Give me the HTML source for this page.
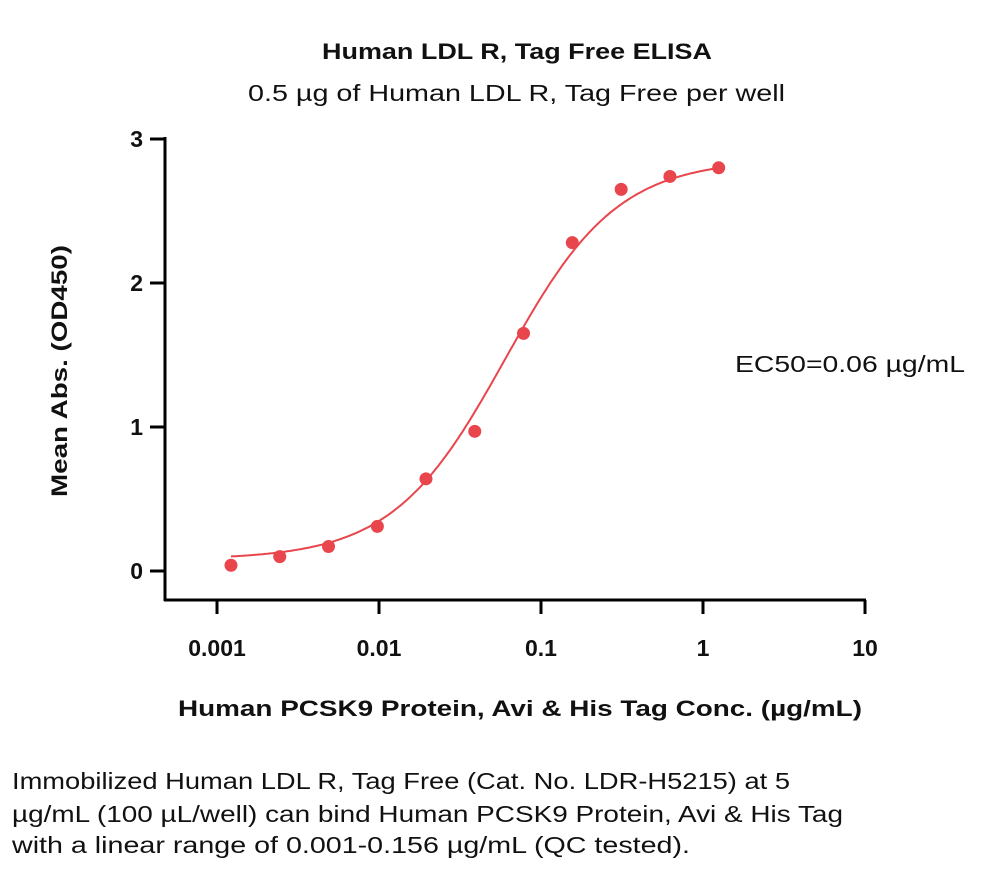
<!DOCTYPE html>
<html><head><meta charset="utf-8"><style>
body{margin:0;background:#fff;}
svg text{font-family:"Liberation Sans",Arial,sans-serif;fill:#111;}
</style></head><body>
<div style="position:relative;width:1000px;height:871px;">
<svg width="1000" height="871" id="chart">
<text x="322" y="59" textLength="390" lengthAdjust="spacingAndGlyphs" font-size="22" font-weight="bold">Human LDL R, Tag Free ELISA</text>
<text x="248" y="101" textLength="537" lengthAdjust="spacingAndGlyphs" font-size="23">0.5 µg of Human LDL R, Tag Free per well</text>
<text x="735" y="372" textLength="230" lengthAdjust="spacingAndGlyphs" font-size="23">EC50=0.06 µg/mL</text>
<text x="178" y="716" textLength="684" lengthAdjust="spacingAndGlyphs" font-size="22" font-weight="bold">Human PCSK9 Protein, Avi &amp; His Tag Conc. (µg/mL)</text>
<text transform="translate(67,497) rotate(-90)" textLength="252" lengthAdjust="spacingAndGlyphs" font-size="22" font-weight="bold">Mean Abs. (OD450)</text>
<g id="axes"></g><g id="marks"></g>
<g font-size="23">
<text x="12" y="789" textLength="778" lengthAdjust="spacingAndGlyphs">Immobilized Human LDL R, Tag Free (Cat. No. LDR-H5215) at 5</text>
<text x="12" y="822" textLength="831" lengthAdjust="spacingAndGlyphs">µg/mL (100 µL/well) can bind Human PCSK9 Protein, Avi &amp; His Tag</text>
<text x="12" y="853" textLength="678" lengthAdjust="spacingAndGlyphs">with a linear range of 0.001-0.156 µg/mL (QC tested).</text>
</g>
</svg>
</div>
<script>
const concs=[0.00122,0.00244,0.00488,0.00977,0.0195,0.039,0.078,0.156,0.3125,0.625,1.25];
const absVals=[0.04,0.1,0.17,0.31,0.64,0.97,1.65,2.28,2.65,2.74,2.8];
const yTicks=[0,1,2,3];
const xTicks=[0.001,0.01,0.1,1,10];
const xTickLabels=["0.001","0.01","0.1","1","10"];
const fitBottom=0.08,fitTop=2.86,fitEC50=0.06,fitHill=1.25;
const NS="http://www.w3.org/2000/svg";
const X=v=>217+(Math.log10(v)+3)*162;
const Y=v=>571-v*144;
const ax=document.getElementById('axes'),mk=document.getElementById('marks');
function el(t,a,p){const e=document.createElementNS(NS,t);for(const k in a)e.setAttribute(k,a[k]);p.appendChild(e);return e;}
let l=el('line',{x1:165,y1:137,x2:165,y2:601,stroke:'#000','stroke-width':3},ax);


l=el('line',{x1:164,y1:600,x2:866,y2:600,stroke:'#000','stroke-width':3},ax);


yTicks.forEach(v=>{
 const t=el('line',{x1:150,y1:Y(v),x2:165,y2:Y(v),stroke:'#000','stroke-width':3},ax);
 
 
 const tx=el('text',{x:143,y:Y(v)+8,'text-anchor':'end','font-size':23,'font-weight':'bold'},ax);
 tx.textContent=v;
 
 
});
xTicks.forEach((v,i)=>{
 const t=el('line',{x1:X(v),y1:600,x2:X(v),y2:614,stroke:'#000','stroke-width':3},ax);
 
 
 const tx=el('text',{x:X(v),y:656,'text-anchor':'middle','font-size':23,'font-weight':'bold'},ax);
 tx.textContent=xTickLabels[i];
 
 
});
let d='';const lo=Math.log10(concs[0]),hi=Math.log10(concs[concs.length-1]);
for(let i=0;i<=200;i++){const lx=lo+(hi-lo)*i/200,c=Math.pow(10,lx);
 const y=fitBottom+(fitTop-fitBottom)/(1+Math.pow(fitEC50/c,fitHill));
 d+=(i?'L':'M')+X(c).toFixed(1)+','+Y(y).toFixed(1);}
const p=el('path',{d:d,fill:'none',stroke:'#e8464c','stroke-width':2},mk);


concs.forEach((c,i)=>{
 const ci=el('circle',{cx:X(c),cy:Y(absVals[i]),r:6.5,fill:'#e8464c'},mk);
 
 
});
</script>
</body></html>
